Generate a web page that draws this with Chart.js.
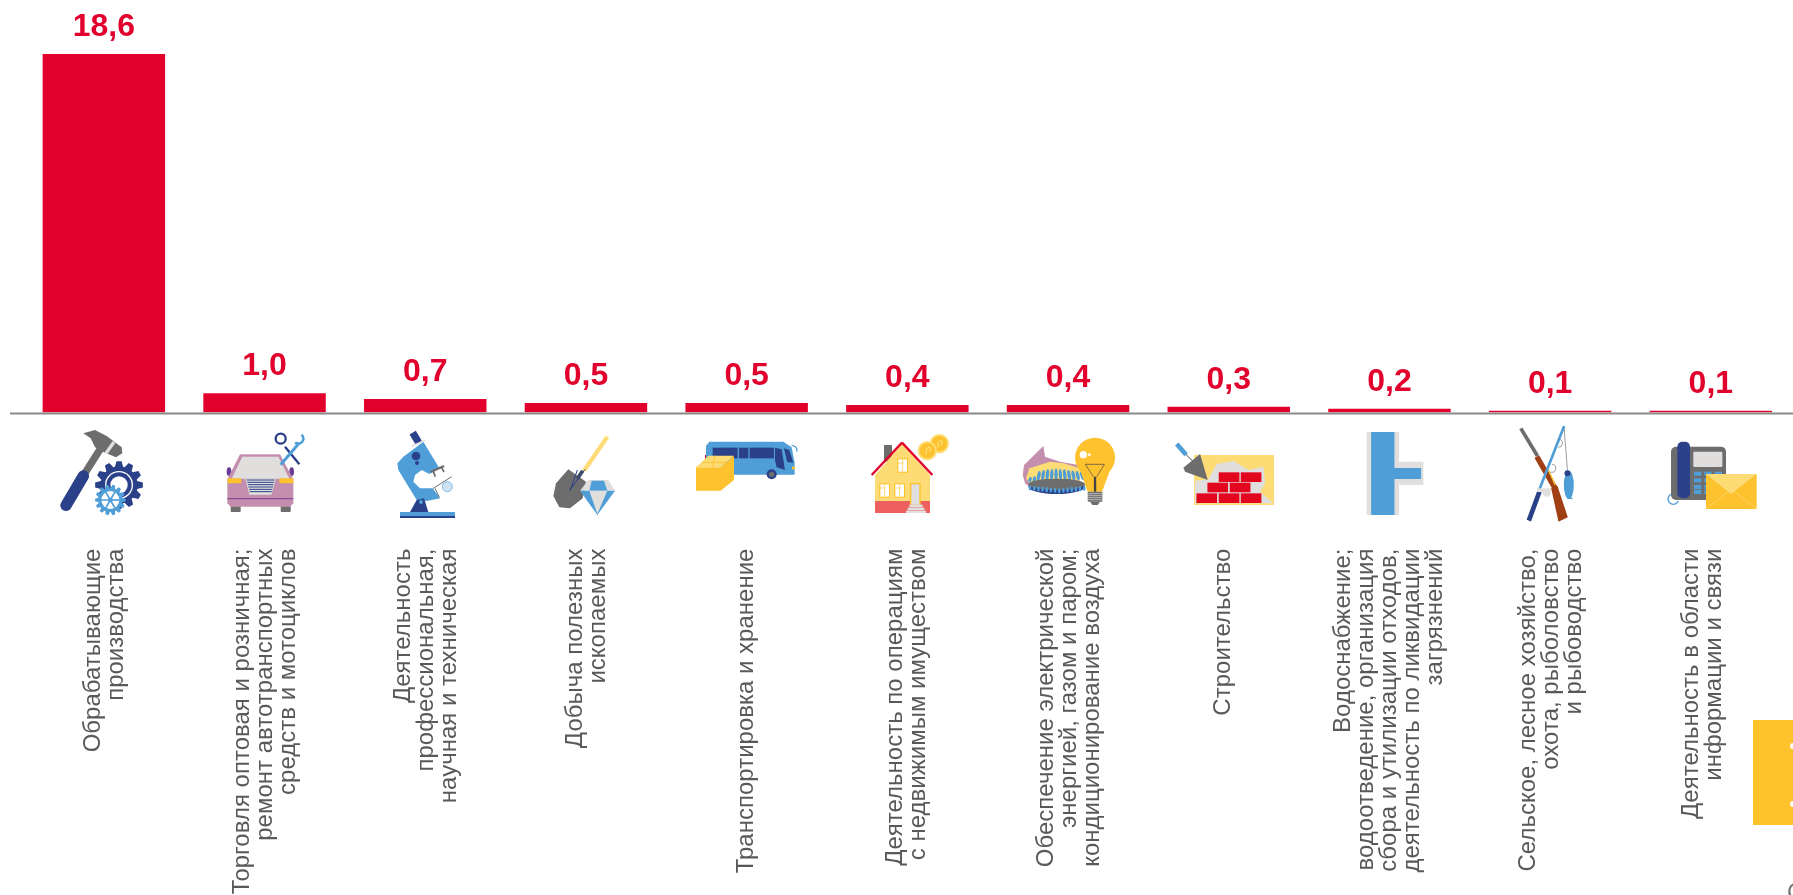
<!DOCTYPE html>
<html lang="ru">
<head>
<meta charset="utf-8">
<title>Chart</title>
<script src="https://cdn.jsdelivr.net/npm/chart.js@4"></script>
<style>
html,body{margin:0;padding:0;background:#fff;overflow:hidden}
canvas{display:block}
</style>
</head>
<body>
<canvas id="c" width="1793" height="895" style="width:1793px;height:895px"></canvas>
<script>
const categories = [
  ["Обрабатывающие","производства"],
  ["Торговля оптовая и розничная;","ремонт автотранспортных","средств и мотоциклов"],
  ["Деятельность","профессиональная,","научная и техническая"],
  ["Добыча полезных","ископаемых"],
  ["Транспортировка и хранение"],
  ["Деятельность по операциям","с недвижимым имуществом"],
  ["Обеспечение электрической","энергией, газом и паром;","кондиционирование воздуха"],
  ["Строительство"],
  ["Водоснабжение;","водоотведение, организация","сбора и утилизации отходов,","деятельность по ликвидации","загрязнений"],
  ["Сельское, лесное хозяйство,","охота, рыболовство","и рыбоводство"],
  ["Деятельность в области","информации и связи"]
];
const values = [18.6,1.0,0.7,0.5,0.5,0.4,0.4,0.3,0.2,0.1,0.1];

const RED='#e2002c', BLUE='#4f9ed8', NAVY='#2a4088', GRAY='#6d6d6d', LIGHT='#e0dfde', YEL='#fdc22e', PALE='#fedc75', PINK='#c48fae';
const TICK_LINE=23;
const TICK_NUDGE=[1,1,1,1,0,0,1,-5,0,1,-8];

/* icon drawing helpers: units are thirds of a pixel */
function kit(ctx){
  const path=pts=>{ctx.beginPath();pts.forEach((p,i)=>i?ctx.lineTo(p[0],p[1]):ctx.moveTo(p[0],p[1]));ctx.closePath();};
  return {
    P(c,pts){ctx.fillStyle=c;path(pts);ctx.fill();},
    L(c,w,x1,y1,x2,y2,cap){ctx.strokeStyle=c;ctx.lineWidth=w;ctx.lineCap=cap||'butt';ctx.beginPath();ctx.moveTo(x1,y1);ctx.lineTo(x2,y2);ctx.stroke();},
    C(c,x,y,r){ctx.fillStyle=c;ctx.beginPath();ctx.arc(x,y,r,0,7);ctx.fill();},
    O(c,w,x,y,r,a,b){ctx.strokeStyle=c;ctx.lineWidth=w;ctx.lineCap='butt';ctx.beginPath();ctx.arc(x,y,r,a===undefined?0:a,b===undefined?7:b);ctx.stroke();},
    E(c,x,y,rx,ry,rot){ctx.fillStyle=c;ctx.beginPath();ctx.ellipse(x,y,rx,ry,rot||0,0,7);ctx.fill();},
    R(c,x,y,w,h,r){ctx.fillStyle=c;ctx.beginPath();ctx.roundRect(x,y,w,h,r||0);ctx.fill();},
    G(c,x,y,ro,ri,n){ctx.fillStyle=c;ctx.beginPath();const s=Math.PI*2/n;
      for(let i=0;i<n;i++){const a=i*s;
        [[a-s*.42,ri],[a-s*.2,ro],[a+s*.2,ro],[a+s*.42,ri]].forEach(q=>ctx.lineTo(x+q[1]*Math.cos(q[0]),y+q[1]*Math.sin(q[0])));}
      ctx.closePath();ctx.fill();}
  };
}
const icons=[
 {zc:191.5,draw(k){
   k.L(GRAY,22,128,170,185,80);
   k.P(GRAY,[[130,40],[165,30],[200,48],[245,82],[247,100],[228,112],[195,98],[165,82],[152,55]]);
   k.L(LIGHT,10,222,66,198,100);
   k.L(NAVY,34,78,256,130,168,'round');
   k.G(NAVY,237,195,72,56,12);
   k.C('#fff',237,195,42);k.C(NAVY,237,195,38);k.C('#fff',237,195,26);
   k.G(BLUE,211,240,46,36,14);
   k.C('#fff',211,240,27);
   for(let a=0;a<6;a++){k.L(BLUE,5,211,240,211+28*Math.cos(a*1.047),240+28*Math.sin(a*1.047));}
   k.C(BLUE,211,240,7);
 }},
 {zc:673.6,draw(k){
   k.E('#6b3a96',567,155,7,13);k.E('#6b3a96',755,155,7,13);
   k.R(GRAY,572,255,30,21,3);k.R(GRAY,722,255,30,21,3);
   k.P(PINK,[[600,103],[720,103],[760,178],[760,250],[750,260],[572,260],[562,250],[562,178]]);
   k.P(LIGHT,[[607,110],[715,110],[748,176],[575,176]]);
   k.R(YEL,562,175,42,15,4);k.R(YEL,718,175,42,15,4);
   k.P(LIGHT,[[616,176],[708,176],[694,224],[628,224]]);
   for(let y=180;y<222;y+=7){k.L(NAVY,3,620+(y-180)*.25,y,704-(y-180)*.25,y);}
   k.L('#8a4f96',4,562,236,760,236);
   k.L(NAVY,7,735,80,778,133);k.O(NAVY,7,722,56,15);
   k.L(BLUE,9,722,134,775,72);k.O(BLUE,8,775,56,15,-.9,2.3);
 }},
 {zc:1155.7,draw(k){
   k.L(NAVY,22,1118,38,1136,68);
   k.P(BLUE,[[1072,130],[1090,110],[1150,65],[1198,145],[1168,162],[1145,150],[1125,165],[1120,185],[1140,205],[1178,205],[1200,235],[1160,243],[1130,240],[1090,175],[1075,150]]);
   k.L(LIGHT,5,1115,78,1155,62);
   k.C(NAVY,1128,108,13);k.C(NAVY,1131,129,6);
   k.L(GRAY,7,1172,156,1212,138);k.L(GRAY,5,1180,155,1186,170);k.L(GRAY,5,1205,143,1212,156);
   k.L(GRAY,3,1180,205,1235,170);k.L(GRAY,3,1185,205,1198,232);
   k.C('#cfe2f2',1222,200,15);k.O(BLUE,2,1222,200,15);
   k.P(NAVY,[[1110,276],[1130,240],[1152,235],[1165,276]]);
   k.C(BLUE,1143,246,6);
   k.R(BLUE,1080,276,165,12);k.R(NAVY,1080,288,165,6);
 }},
 {zc:197.8,draw(k){
   k.L(PALE,13,262,50,192,152);
   k.P(GRAY,[[145,148],[198,185],[188,235],[150,265],[118,262],[100,228],[108,190]]);
   k.L(NAVY,3,195,148,150,210);k.L(NAVY,3,172,150,150,212);
   k.L('#3c4a6b',11,188,152,172,176);
   k.P(LIGHT,[[205,180],[265,180],[285,212],[180,212]]);
   k.P(BLUE,[[215,182],[252,182],[262,212],[208,212]]);
   k.P(BLUE,[[180,212],[285,212],[232,285]]);
   k.P(LIGHT,[[208,212],[262,212],[232,282]]);
 }},
 {zc:680,draw(k){
   k.R(RED,555,105,6,16);
   k.P(BLUE,[[558,78],[568,65],[790,65],[815,82],[824,130],[824,164],[640,164],[558,120]]);
   k.O(BLUE,4,815,92,16,-1.6,.2);
   k.R(NAVY,578,83,75,32);k.R(NAVY,657,83,28,32);k.R(NAVY,689,83,73,32);
   k.P(NAVY,[[765,83],[785,88],[795,150],[770,142],[765,120]]);
   k.P(NAVY,[[792,85],[808,90],[820,128],[802,126]]);
   k.R(YEL,816,140,9,8);
   k.C(NAVY,755,163,15);k.C(GRAY,755,163,8);
   k.P(YEL,[[528,142],[602,142],[642,108],[642,180],[602,212],[528,212]]);
   k.P(PALE,[[528,142],[565,107],[642,107],[602,142]]);
   k.L(YEL,3,548,127,620,127);k.L(YEL,3,585,107,578,142);
 }},
 {zc:1162,draw(k){
   k.R(GRAY,1092,75,24,50);
   k.P(PALE,[[1065,165],[1146,72],[1230,165],[1230,245],[1065,245]]);
   k.R('#ee6060',1065,243,165,36);
   k.L(RED,7,1055,165,1146,68);k.L(RED,7,1146,68,1237,165);
   [[1132,115],[1078,190],[1123,190]].forEach(p=>{k.R(YEL,p[0],p[1],32,43);k.R('#fff',p[0]+3,p[1]+3,26,37);k.L(YEL,2,p[0]+16,p[1]+3,p[0]+16,p[1]+40);k.L(YEL,2,p[0]+3,p[1]+14,p[0]+16,p[1]+14);});
   k.R(YEL,1170,189,32,65);k.R(LIGHT,1174,193,24,61);
   k.R(LIGHT,1168,254,40,8);k.R(LIGHT,1163,263,50,8);k.R(LIGHT,1158,272,60,7);
   k.C('#fedc75',1258,71,29);k.C(YEL,1258,71,23);
   k.C('#fedc75',1222,92,29);k.C(YEL,1222,92,23);
   k.L('#fedc75',4,1220,82,1218,104);k.O('#fedc75',4,1225,88,6,-1.8,1.4);
   k.L('#fedc75',4,1256,62,1254,82);k.O('#fedc75',4,1261,68,6,-1.8,1.4);
 }},
 {zc:204,draw(k){
   k.P(PINK,[[68,165],[72,135],[130,78],[135,110],[180,125],[235,135],[240,190],[100,210],[75,190]]);
   k.P(PALE,[[78,175],[88,145],[150,125],[190,130],[240,145],[240,200],[100,205]]);
   for(let i=0;i<13;i++){const x=90+i*13;const h=(i<2)?10:30-Math.abs(i-6)*1.5;k.E(BLUE,x,178-h/2+ (i<3?6-i*2:0),5,h/2+3,.3-(i*.05));}
   k.E(NAVY,170,200,85,22);
   k.E(GRAY,170,193,85,17);
   for(let i=0;i<14;i++){k.E(BLUE,90+i*12.5,205+ (6-Math.abs(i-7))*1.2,4,8);}
   k.C(YEL,285,113,60);
   k.P(YEL,[[240,150],[330,150],[306,215],[263,215]]);
   k.R(GRAY,263,215,44,30,3);k.P(GRAY,[[270,245],[300,245],[293,255],[277,255]]);
   for(let y=221;y<245;y+=6){k.L(LIGHT,2,263,y,307,y);}
   k.C('#fff',250,104,11);k.C('#fff',268,104,4);
   k.L('#444',2,256,133,313,133);k.L('#444',2,256,133,280,170);k.L('#444',2,313,133,290,170);
   k.L('#444',7,285,170,285,215);
 }},
 {zc:686,draw(k){
   k.R(PALE,582,105,240,150);
   k.P(LIGHT,[[585,250],[585,182],[625,178],[650,132],[700,123],[745,150],[790,140],[795,190],[780,215],[820,250]]);
   k.L(BLUE,14,530,72,558,104);k.L('#444',3,558,104,580,125);
   k.P(GRAY,[[600,102],[623,180],[555,155],[550,143]]);
   [[656,157],[722,157],[622,188],[689,188],[589,220],[656,220],[722,220]].forEach(p=>k.R('#e2061f',p[0],p[1],62,29));
 }},
 {zc:1168,draw(k){
   k.R(LIGHT,1100,36,97,249);
   k.R(LIGHT,1180,125,90,70,[22,0,0,22]);
   k.R(BLUE,1113,36,70,249);
   k.R(BLUE,1180,144,83,33);
 }},
 {zc:330,draw(k){
   k.L(GRAY,11,242,25,292,108);
   k.L('#a03f14',16,290,110,345,205);
   k.P('#a03f14',[[333,205],[352,198],[383,292],[355,305]]);
   k.L(YEL,4,325,150,345,195);
   k.L(BLUE,8,372,18,298,208);
   k.L(NAVY,14,298,215,266,302);
   k.R(LIGHT,290,205,42,11);
   k.O(GRAY,2,335,145,12,-1.5,2);k.O(GRAY,2,355,70,12,-1.5,1.6);
   k.C(LIGHT,320,218,12);
   k.L(GRAY,2,372,25,382,152);
   k.E(BLUE,386,195,15,42);k.C(NAVY,382,160,9);
   k.P(BLUE,[[386,225],[399,238],[381,236]]);
 }},
 {zc:812.5,draw(k){
   k.O(BLUE,4,700,237,16,.4,4.2);
   k.R(GRAY,693,80,165,160,15);
   k.R(NAVY,712,65,38,170,15);
   k.R(LIGHT,760,95,87,46,3);
   [762,793,824].forEach(x=>[155,175,195,210].forEach(y=>k.R(BLUE,x,y,22,12)));
   k.R(YEL,798,162,152,105);
   k.P(PALE,[[798,162],[950,162],[873,222]]);
   k.L(PALE,2,800,265,865,215);k.L(PALE,2,948,265,882,215);
 }}
];

const barLabels={id:'barLabels',afterDatasetsDraw(chart){
  const ctx=chart.ctx, meta=chart.getDatasetMeta(0);
  ctx.save();ctx.fillStyle=RED;ctx.font='bold 32px "Liberation Sans"';ctx.textAlign='center';ctx.textBaseline='alphabetic';
  meta.data.forEach((b,i)=>ctx.fillText(values[i].toFixed(1).replace('.',','),b.x,b.y-18));
  ctx.restore();
}};
const centerTicks={id:'centerTicks',afterLayout(chart){
  const items=chart.scales.x.getLabelItems();
  items.forEach((it,i)=>{
    const n=Array.isArray(it.label)?it.label.length:1;
    it.options.translation[0]+=TICK_NUDGE[i]-(n-1)/2*TICK_LINE;
  });
}};
const decor={id:'decor',afterDraw(chart){
  const ctx=chart.ctx, y0=chart.scales.y.getPixelForValue(0), x=chart.scales.x;
  ctx.save();
  ctx.strokeStyle='#898989';ctx.lineWidth=2;ctx.beginPath();ctx.moveTo(10,y0+1);ctx.lineTo(1793,y0+1);ctx.stroke();
  const k=kit(ctx);
  icons.forEach((ic,i)=>{
    ctx.save();ctx.translate(x.getPixelForValue(i)-ic.zc/3,420);ctx.scale(1/3,1/3);ic.draw(k);ctx.restore();
  });
  ctx.fillStyle='#fec22d';ctx.fillRect(1753,720,40,105);
  ctx.fillStyle='#fff';
  [746,804].forEach(y=>{ctx.beginPath();ctx.arc(1793,y,3,0,7);ctx.fill();});
  ctx.fillStyle='#777';ctx.font='24px "Liberation Sans"';ctx.textAlign='left';ctx.textBaseline='alphabetic';
  ctx.fillText('С',1787,900);
  ctx.restore();
}};

new Chart(document.getElementById('c'),{
  type:'bar',
  data:{labels:categories,datasets:[{data:values,backgroundColor:RED,borderWidth:0,categoryPercentage:1,barPercentage:0.762}]},
  options:{
    responsive:false,animation:false,devicePixelRatio:1,
    layout:{padding:{left:23.5,right:1.8,top:0,bottom:0}},
    plugins:{legend:{display:false},tooltip:{enabled:false},title:{display:false}},
    scales:{
      x:{
        grid:{display:false,drawTicks:false},border:{display:false},
        ticks:{autoSkip:false,minRotation:90,maxRotation:90,padding:136,
          color:'#595959',font:{family:'"Liberation Sans"',size:24,lineHeight:23/24}},
        afterFit(s){s.height=482.4;s.paddingLeft=0;s.paddingRight=0;}
      },
      y:{display:false,min:0,max:21.4,grid:{display:false}}
    }
  },
  plugins:[barLabels,centerTicks,decor]
});
</script>
</body>
</html>
